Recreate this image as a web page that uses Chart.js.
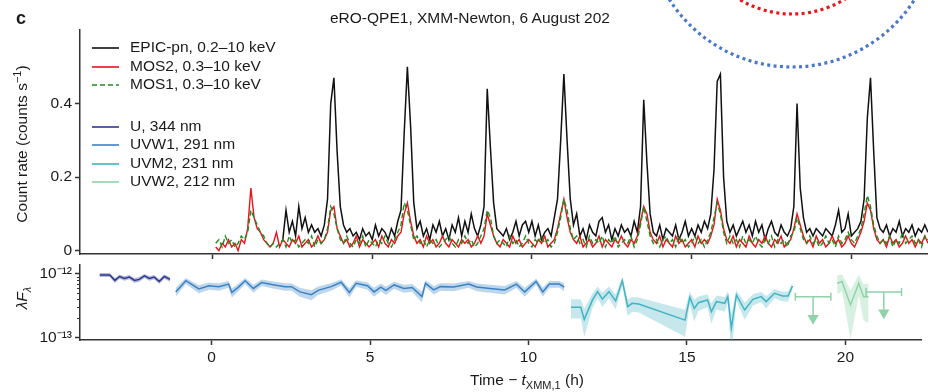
<!DOCTYPE html>
<html>
<head>
<meta charset="utf-8">
<script src="https://cdn.jsdelivr.net/npm/chart.js@4.4.1/dist/chart.umd.min.js"></script>
<style>
  body { margin: 0; background: #fff; font-family: "Liberation Sans", Arial, sans-serif; color: #1a1a1a; }
  #wrap { position: relative; width: 928px; height: 392px; overflow: hidden; }
  canvas { position: absolute; left: 0; }
  .txt { position: absolute; white-space: nowrap; font-size: 15.5px; line-height: 1; }
  .rot { transform: translate(-50%, -50%) rotate(-90deg); }
  sub, sup { font-size: 11px; line-height: 0; }
  .leg { position: absolute; left: 92px; white-space: nowrap; font-size: 15.5px; line-height: 18px; height: 18px; }
  .leg svg { vertical-align: middle; margin-right: 11px; }
</style>
</head>
<body>
<div id="wrap">
  <canvas id="bot" width="928" height="142" style="top:250px"></canvas>
  <canvas id="top" width="928" height="268" style="top:0"></canvas>

  <div class="txt" style="left:16px;top:9px;font-weight:bold;font-size:18px;">c</div>
  <div class="txt" style="left:330px;top:10px;">eRO-QPE1, XMM-Newton, 6 August 202</div>
  <div class="txt rot" style="left:22px;top:144px;">Count rate (counts s<sup>−1</sup>)</div>
  <div class="txt rot" style="left:22px;top:298px;"><i>λF</i><sub><i>λ</i></sub></div>
  <div class="txt" style="left:470px;top:372px;">Time − <i>t</i><sub>XMM,1</sub> (h)</div>
  <div id="legend"></div>

  <svg width="928" height="80" style="position:absolute;left:0;top:0">
    <circle cx="792" cy="-78" r="145" fill="none" stroke="#4a78c8" stroke-width="3.2" stroke-dasharray="3 3.4"/>
    <circle cx="792" cy="-88" r="102" fill="none" stroke="#e8161b" stroke-width="3.2" stroke-dasharray="3 3.4"/>
  </svg>
</div>

<script>
// X-ray light curves, 0.1 h bins
const binH = 0.1;
const pnStart = 2.2;
const mosStart = 0.1;

const epicPn = [
  0.03, 0.11, 0.05, 0.08, 0.04, 0.12, 0.06, 0.09,
  0.05, 0.07, 0.05, 0.06, 0.04, 0.07, 0.14, 0.40, 0.47, 0.27,
  0.12, 0.07, 0.05, 0.06, 0.04, 0.05, 0.03, 0.06, 0.04, 0.05,
  0.03, 0.07, 0.04, 0.06, 0.05, 0.03, 0.06, 0.04, 0.08, 0.11,
  0.32, 0.50, 0.34, 0.13, 0.06, 0.08, 0.04, 0.06, 0.03, 0.07,
  0.05, 0.08, 0.04, 0.06, 0.03, 0.07, 0.05, 0.09, 0.04, 0.08,
  0.05, 0.10, 0.06, 0.04, 0.07, 0.12, 0.44, 0.28, 0.13, 0.06,
  0.05, 0.04, 0.06, 0.03, 0.05, 0.08, 0.04, 0.07, 0.08, 0.05,
  0.08, 0.04, 0.07, 0.03, 0.05, 0.06, 0.04, 0.09, 0.14, 0.30,
  0.48, 0.30, 0.14, 0.07, 0.10, 0.04, 0.06, 0.03, 0.07, 0.05,
  0.04, 0.08, 0.09, 0.05, 0.07, 0.03, 0.06, 0.04, 0.07, 0.05,
  0.06, 0.04, 0.08, 0.05, 0.12, 0.41, 0.24, 0.10, 0.05, 0.04,
  0.07, 0.03, 0.06, 0.05, 0.04, 0.07, 0.03, 0.05, 0.08, 0.04,
  0.06, 0.04, 0.07, 0.05, 0.08, 0.06, 0.10, 0.22, 0.46, 0.48,
  0.20, 0.08, 0.05, 0.07, 0.04, 0.06, 0.08, 0.05, 0.07, 0.04,
  0.08, 0.05, 0.07, 0.03, 0.06, 0.08, 0.05, 0.04, 0.07, 0.05,
  0.04, 0.06, 0.12, 0.40, 0.17, 0.09, 0.05, 0.06, 0.04, 0.06,
  0.05, 0.04, 0.06, 0.05, 0.04, 0.07, 0.11, 0.05, 0.06, 0.10,
  0.04, 0.05, 0.06, 0.08, 0.14, 0.36, 0.47, 0.27, 0.09, 0.06,
  0.05, 0.07, 0.04, 0.06, 0.05, 0.08, 0.04, 0.06, 0.05, 0.07,
  0.04, 0.06, 0.05, 0.07, 0.05
];

const mos2 = [
  0.01, 0.00, 0.02, 0.01, 0.03, 0.01, 0.02, 0.00, 0.03,
  0.02, 0.06, 0.17, 0.09, 0.06, 0.05, 0.03, 0.02, 0.01, 0.02,
  0.05, 0.01, 0.03, 0.02, 0.01, 0.03, 0.02, 0.04, 0.01, 0.02,
  0.03, 0.01, 0.02, 0.04, 0.02, 0.03, 0.05, 0.11, 0.12, 0.06,
  0.04, 0.02, 0.03, 0.01, 0.02, 0.04, 0.01, 0.03, 0.02, 0.01,
  0.02, 0.03, 0.01, 0.04, 0.02, 0.01, 0.03, 0.02, 0.04, 0.05,
  0.10, 0.13, 0.08, 0.04, 0.02, 0.03, 0.01, 0.04, 0.02, 0.03,
  0.01, 0.02, 0.04, 0.02, 0.01, 0.03, 0.02, 0.01, 0.03, 0.02,
  0.03, 0.01, 0.02, 0.04, 0.02, 0.04, 0.10, 0.07, 0.04, 0.02,
  0.01, 0.03, 0.02, 0.01, 0.04, 0.02, 0.03, 0.01, 0.02, 0.03,
  0.02, 0.01, 0.03, 0.02, 0.04, 0.01, 0.02, 0.03, 0.06, 0.10,
  0.14, 0.09, 0.05, 0.03, 0.02, 0.04, 0.01, 0.02, 0.03, 0.01,
  0.02, 0.04, 0.01, 0.03, 0.02, 0.01, 0.03, 0.02, 0.04, 0.02,
  0.01, 0.03, 0.02, 0.04, 0.08, 0.12, 0.10, 0.05, 0.03, 0.02,
  0.04, 0.01, 0.03, 0.02, 0.01, 0.04, 0.02, 0.03, 0.01, 0.02,
  0.03, 0.01, 0.04, 0.02, 0.03, 0.02, 0.04, 0.07, 0.14, 0.11,
  0.06, 0.03, 0.02, 0.04, 0.01, 0.03, 0.02, 0.01, 0.04, 0.02,
  0.01, 0.03, 0.02, 0.04, 0.02, 0.01, 0.03, 0.02, 0.04, 0.01,
  0.02, 0.03, 0.06, 0.10, 0.07, 0.04, 0.02, 0.03, 0.01, 0.04,
  0.02, 0.03, 0.01, 0.02, 0.04, 0.02, 0.03, 0.01, 0.02, 0.04,
  0.02, 0.01, 0.03, 0.05, 0.08, 0.13, 0.11, 0.06, 0.03, 0.02,
  0.03, 0.01, 0.04, 0.02, 0.03, 0.01, 0.02, 0.04, 0.02, 0.03,
  0.01, 0.03, 0.02, 0.04, 0.02
];

const mos1 = [
  0.02, 0.03, 0.01, 0.04, 0.02, 0.03, 0.01, 0.02, 0.04,
  0.03, 0.05, 0.11, 0.09, 0.07, 0.05, 0.04, 0.02, 0.01, 0.02,
  0.01, 0.02, 0.03, 0.01, 0.04, 0.02, 0.03, 0.01, 0.02, 0.03,
  0.02, 0.04, 0.01, 0.03, 0.02, 0.03, 0.06, 0.12, 0.10, 0.06,
  0.03, 0.02, 0.04, 0.02, 0.01, 0.03, 0.02, 0.04, 0.01, 0.03,
  0.02, 0.01, 0.03, 0.02, 0.04, 0.02, 0.01, 0.03, 0.05, 0.07,
  0.13, 0.11, 0.07, 0.03, 0.04, 0.02, 0.03, 0.01, 0.03, 0.02,
  0.03, 0.01, 0.02, 0.03, 0.04, 0.02, 0.01, 0.03, 0.02, 0.04,
  0.02, 0.03, 0.01, 0.02, 0.04, 0.06, 0.11, 0.09, 0.04, 0.02,
  0.03, 0.02, 0.01, 0.04, 0.02, 0.03, 0.01, 0.02, 0.04, 0.02,
  0.01, 0.03, 0.02, 0.04, 0.02, 0.03, 0.01, 0.02, 0.05, 0.09,
  0.14, 0.11, 0.06, 0.03, 0.04, 0.02, 0.03, 0.01, 0.04, 0.02,
  0.03, 0.02, 0.04, 0.01, 0.03, 0.02, 0.04, 0.01, 0.02, 0.03,
  0.02, 0.04, 0.01, 0.03, 0.07, 0.12, 0.08, 0.04, 0.02, 0.03,
  0.01, 0.03, 0.04, 0.02, 0.03, 0.01, 0.04, 0.02, 0.03, 0.01,
  0.02, 0.04, 0.02, 0.03, 0.01, 0.03, 0.05, 0.09, 0.13, 0.10,
  0.05, 0.02, 0.04, 0.02, 0.03, 0.01, 0.04, 0.02, 0.03, 0.02,
  0.04, 0.02, 0.01, 0.03, 0.02, 0.04, 0.01, 0.03, 0.02, 0.03,
  0.01, 0.04, 0.05, 0.09, 0.06, 0.03, 0.02, 0.04, 0.02, 0.03,
  0.01, 0.02, 0.04, 0.02, 0.03, 0.01, 0.04, 0.02, 0.03, 0.05,
  0.03, 0.02, 0.04, 0.06, 0.10, 0.15, 0.12, 0.07, 0.04, 0.02,
  0.03, 0.02, 0.04, 0.01, 0.03, 0.02, 0.05, 0.02, 0.03, 0.04,
  0.02, 0.03, 0.01, 0.04, 0.03
];

// OM photometry, flux in units of 1e-13
const fluxUnit = 1e-13;
const uT = [-3.53, -3.21, -3.05, -2.90, -2.75, -2.59, -2.43, -2.28, -2.12, -1.96, -1.81, -1.65, -1.49, -1.31];
const uF = [9.6, 9.6, 7.9, 9.1, 8.5, 8.9, 7.9, 8.2, 9.3, 8.5, 8.9, 7.6, 9.1, 8.2];
const uErr = 0.7;

const uvw1T = [-1.13, -0.81, -0.40, -0.08, 0.23, 0.54, 0.64, 0.85, 1.06, 1.32,
  1.58, 1.90, 2.32, 2.52, 2.79, 3.15, 3.36, 3.77, 4.09, 4.35,
  4.56, 4.92, 5.13, 5.34, 5.50, 5.76, 6.07, 6.33, 6.64, 6.75,
  7.01, 7.22, 7.64, 8.11, 8.37, 8.78, 9.25, 9.62, 9.88, 10.24,
  10.45, 10.66, 10.97, 11.13];
const uvw1F = [5.2, 7.8, 5.8, 6.5, 6.3, 6.9, 5.1, 6.2, 7.8, 5.9,
  7.3, 6.8, 6.3, 6.3, 5.2, 4.7, 5.5, 6.3, 7.4, 5.1,
  7.1, 6.5, 5.2, 6.2, 5.5, 6.7, 5.9, 6.1, 4.4, 7.1,
  5.6, 6.3, 6.2, 6.9, 6.2, 5.9, 5.6, 6.9, 5.2, 7.6,
  5.2, 6.9, 6.9, 6.2];
const uvw1Err = 0.85;

const uvm2T = [11.34, 11.65, 11.76, 12.02, 12.18, 12.33, 12.54, 12.75, 12.96, 13.13,
  13.27, 13.48, 14.94, 15.09, 15.23, 15.36, 15.65, 15.77, 15.93, 16.19,
  16.29, 16.40, 16.56, 16.82, 17.08, 17.34, 17.50, 17.76, 18.02, 18.19, 18.33];
const uvm2F = [2.98, 2.98, 1.92, 3.89, 5.25, 4.03, 5.25, 3.75, 7.83, 3.05,
  3.44, 3.36, 1.87, 4.27, 2.86, 3.51, 3.89, 2.54, 3.66, 3.44,
  4.39, 1.39, 4.66, 2.70, 3.98, 4.39, 3.66, 4.94, 4.49, 4.49, 6.46];
const uvm2Err = [1.0, 1.0, 0.9, 1.0, 1.1, 1.0, 1.1, 1.0, 1.3, 0.9,
  0.9, 0.9, 0.85, 1.0, 1.1, 0.9, 0.9, 0.9, 0.9, 0.9,
  0.9, 0.9, 0.9, 0.8, 0.8, 0.8, 0.8, 0.8, 0.8, 0.8, 0.9];

const uvw2T = [19.74, 19.89, 20.16, 20.42, 20.57, 20.73];
const uvw2F = [7.13, 7.59, 3.24, 7.13, 4.37, 4.37];
const uvw2Err = [2.4, 2.2, 2.3, 2.6, 2.5, 2.7];

// UVW2 upper limits
const ulT = [18.98, 21.21];
const ulHalfWidth = [0.56, 0.56];
const ulF = [4.37, 5.2];
const ulArrowTip = [2.0, 2.45];

const xTicks = [0, 5, 10, 15, 20];
const rateTicks = [0, 0.2, 0.4];
const fluxTicks = [1e-13, 1e-12];
const fluxTickLabels = ['10⁻¹³', '10⁻¹²'];

const xrayNames = ['EPIC-pn, 0.2–10 keV', 'MOS2, 0.3–10 keV', 'MOS1, 0.3–10 keV'];
const omNames = ['U, 344 nm', 'UVW1, 291 nm', 'UVM2, 231 nm', 'UVW2, 212 nm'];

const colEpic = '#111111', colMos2 = '#e8141b', colMos1 = '#1e8c1e';
const colU = '#2e3a8e', colW1 = '#3b82c4', colM2 = '#41b3c5', colW2 = '#8fd3a8';
const bandU = 'rgba(46,58,142,0.35)', bandW1 = 'rgba(59,130,196,0.33)',
      bandM2 = 'rgba(65,179,197,0.30)', bandW2 = 'rgba(143,211,168,0.35)';

const axisCol = '#333';
const tickFont = { family: 'Liberation Sans', size: 15.5 };

function binned(arr, t0) {
  return arr.map((v, i) => ({ x: +(t0 + i * binH).toFixed(2), y: v }));
}

function xScale(showLabels, h) {
  return {
    type: 'linear', min: -4.15, max: 22.4,
    afterBuildTicks: s => { s.ticks = xTicks.map(v => ({ value: v })); },
    afterFit: s => { s.height = h; },
    grid: { display: true, drawOnChartArea: false, drawTicks: true, tickLength: 5, tickWidth: 1.5, tickColor: axisCol },
    border: { display: true, color: axisCol, width: 1.5 },
    ticks: { display: showLabels, autoSkip: false, maxRotation: 0, padding: 3, color: '#1a1a1a', font: tickFont }
  };
}

function yGrid() {
  return {
    grid: { display: true, drawOnChartArea: false, drawTicks: true, tickLength: 5, tickWidth: 1.5, tickColor: axisCol },
    border: { display: true, color: axisCol, width: 1.5 },
    afterFit: s => { s.width = 80; }
  };
}

// light curves
new Chart(document.getElementById('top'), {
  type: 'line',
  data: {
    datasets: [
      { label: xrayNames[0], data: binned(epicPn, pnStart), borderColor: colEpic, borderWidth: 1.5, order: 3 },
      { label: xrayNames[1], data: binned(mos2, mosStart), borderColor: colMos2, borderWidth: 1.4, order: 2 },
      { label: xrayNames[2], data: binned(mos1, mosStart), borderColor: colMos1, borderWidth: 1.4, borderDash: [5, 3], order: 1 }
    ]
  },
  options: {
    responsive: false, animation: false,
    layout: { padding: { top: 30, left: 0, right: 0, bottom: 0 } },
    elements: { point: { radius: 0 }, line: { tension: 0 } },
    plugins: { legend: { display: false }, tooltip: { enabled: false } },
    scales: {
      x: xScale(false, 14),
      y: Object.assign(yGrid(), {
        min: -0.009, max: 0.6,
        afterBuildTicks: s => { s.ticks = rateTicks.map(v => ({ value: v })); },
        ticks: { padding: 3, color: '#1a1a1a', font: tickFont, callback: v => v === 0 ? '0' : v.toFixed(1) }
      })
    }
  }
});

function bandSets(t, f, err, line, band) {
  const e = i => Array.isArray(err) ? err[i] : err;
  const lo = t.map((x, i) => ({ x, y: Math.max(f[i] - e(i), 0.3) * fluxUnit }));
  const hi = t.map((x, i) => ({ x, y: (f[i] + e(i)) * fluxUnit }));
  const mid = t.map((x, i) => ({ x, y: f[i] * fluxUnit }));
  return [
    { data: lo, borderWidth: 0, borderColor: 'transparent', fill: false },
    { data: hi, borderWidth: 0, borderColor: 'transparent', backgroundColor: band, fill: '-1' },
    { data: mid, borderColor: line, borderWidth: 1.5, fill: false }
  ];
}

const ulSets = [];
ulT.forEach((t, i) => {
  ulSets.push({
    data: [{ x: t - ulHalfWidth[i], y: ulF[i] * fluxUnit }, { x: t + ulHalfWidth[i], y: ulF[i] * fluxUnit }],
    borderColor: colW2, borderWidth: 1.5, fill: false,
    pointStyle: 'line', pointRadius: 4, pointRotation: 90, pointBorderColor: colW2, pointBorderWidth: 1.5
  });
  ulSets.push({
    data: [{ x: t, y: ulF[i] * fluxUnit }, { x: t, y: ulArrowTip[i] * fluxUnit }],
    borderColor: colW2, borderWidth: 1.5, fill: false,
    pointStyle: 'triangle', pointRadius: [0, 5], pointRotation: 180,
    pointBackgroundColor: colW2, pointBorderColor: colW2
  });
});

const minorTicks = {
  id: 'minorTicks',
  afterDraw(chart) {
    const s = chart.scales.y, ctx = chart.ctx;
    ctx.save();
    ctx.strokeStyle = axisCol; ctx.lineWidth = 1;
    for (let m = 2; m <= 9; m++) {
      const py = Math.round(s.getPixelForValue(m * 1e-13)) + 0.5;
      ctx.beginPath(); ctx.moveTo(s.right - 3, py); ctx.lineTo(s.right, py); ctx.stroke();
    }
    ctx.restore();
  }
};

// OM photometry
new Chart(document.getElementById('bot'), {
  type: 'line',
  data: {
    datasets: [
      ...bandSets(uT, uF, uErr, colU, bandU),
      ...bandSets(uvw1T, uvw1F, uvw1Err, colW1, bandW1),
      ...bandSets(uvm2T, uvm2F, uvm2Err, colM2, bandM2),
      ...bandSets(uvw2T, uvw2F, uvw2Err, colW2, bandW2),
      ...ulSets
    ]
  },
  options: {
    responsive: false, animation: false,
    layout: { padding: { top: 15, left: 0, right: 0, bottom: 0 } },
    elements: { point: { radius: 0 }, line: { tension: 0 } },
    plugins: { legend: { display: false }, tooltip: { enabled: false } },
    scales: {
      x: xScale(true, 52),
      y: Object.assign(yGrid(), {
        type: 'logarithmic', min: 9.1e-14, max: 1.38e-12,
        afterBuildTicks: s => { s.ticks = fluxTicks.map(v => ({ value: v })); },
        ticks: { padding: 3, color: '#1a1a1a', font: tickFont, callback: (v, i) => fluxTickLabels[i] }
      })
    }
  },
  plugins: [minorTicks]
});

// legend
const legendRows = [
  { name: xrayNames[0], color: colEpic, dash: '', y: 38 },
  { name: xrayNames[1], color: colMos2, dash: '', y: 57 },
  { name: xrayNames[2], color: colMos1, dash: '5 3', y: 75 },
  { name: omNames[0], color: colU, dash: '', y: 117 },
  { name: omNames[1], color: colW1, dash: '', y: 135 },
  { name: omNames[2], color: colM2, dash: '', y: 154 },
  { name: omNames[3], color: colW2, dash: '', y: 172 }
];
const leg = document.getElementById('legend');
legendRows.forEach(r => {
  const d = document.createElement('div');
  d.className = 'leg';
  d.style.top = r.y + 'px';
  d.innerHTML = `<svg width="27" height="4"><line x1="0" y1="2" x2="27" y2="2" stroke="${r.color}" stroke-width="1.6" stroke-dasharray="${r.dash}"/></svg>${r.name}`;
  leg.appendChild(d);
});
</script>
</body>
</html>
